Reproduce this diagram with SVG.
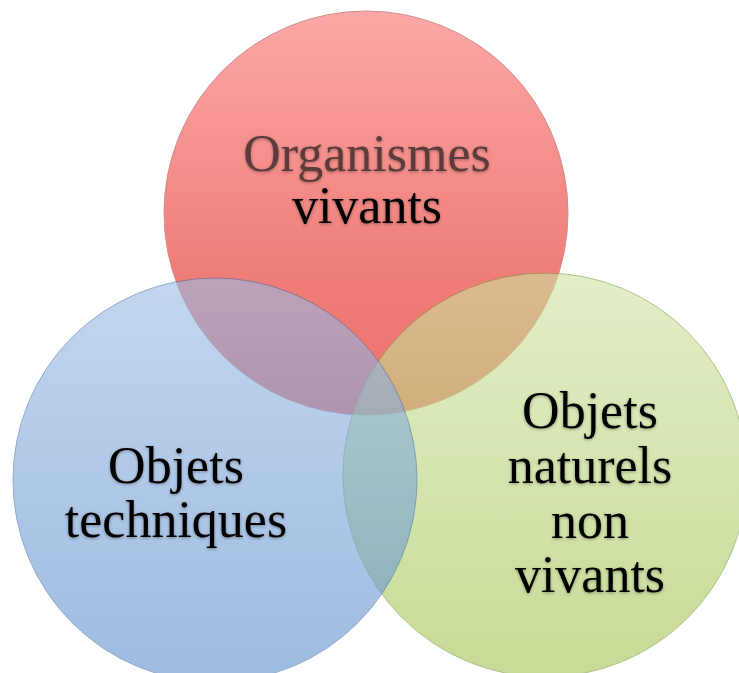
<svg xmlns="http://www.w3.org/2000/svg" width="739" height="673" viewBox="0 0 739 673">
<style>
.c{opacity:0.6}
.lbl{font-family:"Liberation Serif","Times New Roman",serif;font-size:52px;text-anchor:middle;fill:#000;filter:url(#sh)}
</style>
<defs>
<linearGradient id="gr" x1="0" y1="0" x2="0" y2="1">
<stop offset="0" stop-color="#fa6e6e"/>
<stop offset="0.65" stop-color="#e6281e"/>
<stop offset="1" stop-color="#e0140a"/>
</linearGradient>
<linearGradient id="gb" x1="0" y1="0" x2="0" y2="1">
<stop offset="0" stop-color="#9bbce6"/>
<stop offset="1" stop-color="#5e8dcc"/>
</linearGradient>
<linearGradient id="gg" x1="0" y1="0" x2="0" y2="1">
<stop offset="0" stop-color="#cfe3a3"/>
<stop offset="1" stop-color="#a2c450"/>
</linearGradient>
<filter id="sh" x="-10%" y="-20%" width="120%" height="140%">
<feDropShadow dx="0" dy="1" stdDeviation="1.5" flood-color="#000" flood-opacity="0.35"/>
</filter>
</defs>
<g id="red">
<circle class="c" cx="366" cy="213" r="202" fill="url(#gr)" stroke="#b04040" stroke-width="1"/>
</g>
<g id="green">
<circle class="c" cx="545" cy="475" r="202" fill="url(#gg)" stroke="#7a9a40" stroke-width="1"/>
</g>
<g id="blue">
<circle class="c" cx="215" cy="480" r="202" fill="url(#gb)" stroke="#4a70a8" stroke-width="1"/>
</g>
<g id="connectors"></g>
<g id="labels">
<text class="lbl" x="367" y="171" style="fill:#5b3a3a">Organismes</text>
<text class="lbl" x="367" y="223">vivants</text>
<text class="lbl" x="176" y="483">Objets</text>
<text class="lbl" x="176" y="537">techniques</text>
<text class="lbl" x="590" y="428">Objets</text>
<text class="lbl" x="590" y="483">naturels</text>
<text class="lbl" x="590" y="538">non</text>
<text class="lbl" x="590" y="592">vivants</text>
</g>
</svg>
